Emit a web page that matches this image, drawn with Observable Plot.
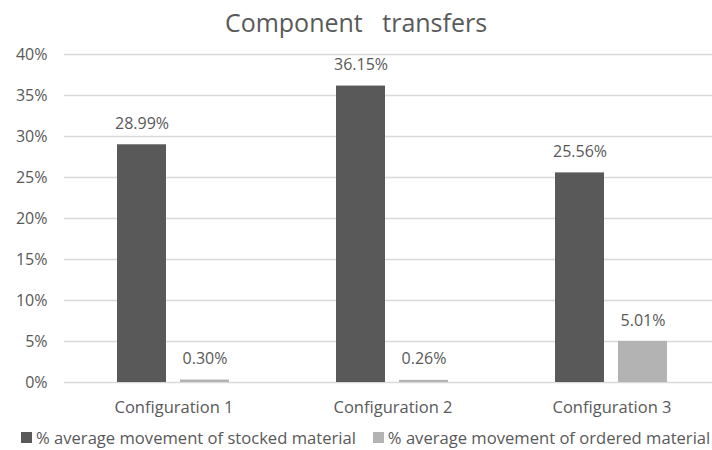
<!DOCTYPE html>
<html>
<head>
<meta charset="utf-8">
<script src="https://cdn.jsdelivr.net/npm/d3@7"></script>
<script src="https://cdn.jsdelivr.net/npm/@observablehq/plot@0.6"></script>
<style>
  html, body { margin: 0; padding: 0; background: #fff; width: 712px; overflow: hidden; }
  body { font-family: "Open Sans", "Noto Sans", sans-serif; color: #595959; }
  #title { height: 40px; line-height: 44px; text-align: center; font-size: 25px; white-space: pre; color: #595959; }
  #legend { height: 34px; display: flex; align-items: center; font-size: 16.6px; white-space: nowrap; margin-left: 21px; }
  #legend .sw { display: inline-block; width: 11px; height: 11px; margin-right: 4px; }
  #legend .item { display: inline-flex; align-items: center; margin-right: 17px; }
  svg { overflow: hidden; }
</style>
</head>
<body>
<div id="title">Component   transfers</div>
<div id="chart"></div>
<div id="legend"></div>
<script>
const configurations = ["Configuration 1", "Configuration 2", "Configuration 3"];
const seriesNames = ["% average movement of stocked material", "% average movement of ordered material"];
const stocked = [28.99, 36.15, 25.56];
const ordered = [0.30, 0.26, 5.01];
const yTicks = [0, 5, 10, 15, 20, 25, 30, 35, 40];
const colors = ["#595959", "#b3b3b3"];

const data = [];
configurations.forEach((c, i) => {
  data.push({config: c, series: seriesNames[0], value: stocked[i]});
  data.push({config: c, series: seriesNames[1], value: ordered[i]});
});

const chart = Plot.plot({
  width: 712,
  height: 380,
  marginLeft: 64,
  marginRight: -9,
  marginTop: 14,
  marginBottom: 38,
  style: {fontFamily: "'Open Sans', 'Noto Sans', sans-serif", fontSize: "16px", color: "#595959", background: "#fff"},
  fx: {domain: configurations, padding: 0, label: null},
  x: {domain: seriesNames, paddingInner: 0.222, paddingOuter: 0.849, axis: null},
  y: {domain: [0, 40], label: null},
  color: {domain: seriesNames, range: colors},
  marks: [
    Plot.ruleY(yTicks, {stroke: "#d9d9d9", strokeWidth: 1.3, strokeOpacity: 1}),
    Plot.axisY({ticks: yTicks, tickFormat: d => d + "%", tickSize: 0, tickPadding: 17, label: null, fill: "#595959", fontSize: 16}),
    Plot.axisFx({anchor: "bottom", tickSize: 0, tickPadding: 19, label: null, fill: "#595959", fontSize: 16.5}),
    Plot.barY(data, {fx: "config", x: "series", y: "value", fill: "series"}),
    Plot.text(data, {fx: "config", x: "series", y: "value", text: d => d.value.toFixed(2) + "%", dy: -21, fill: "#595959", fontSize: 16})
  ]
});
document.getElementById("chart").appendChild(chart);

const legend = document.getElementById("legend");
seriesNames.forEach((s, i) => {
  const item = document.createElement("span");
  item.className = "item";
  const sw = document.createElement("span");
  sw.className = "sw";
  sw.style.background = colors[i];
  item.appendChild(sw);
  item.appendChild(document.createTextNode(s));
  legend.appendChild(item);
});
</script>
</body>
</html>
